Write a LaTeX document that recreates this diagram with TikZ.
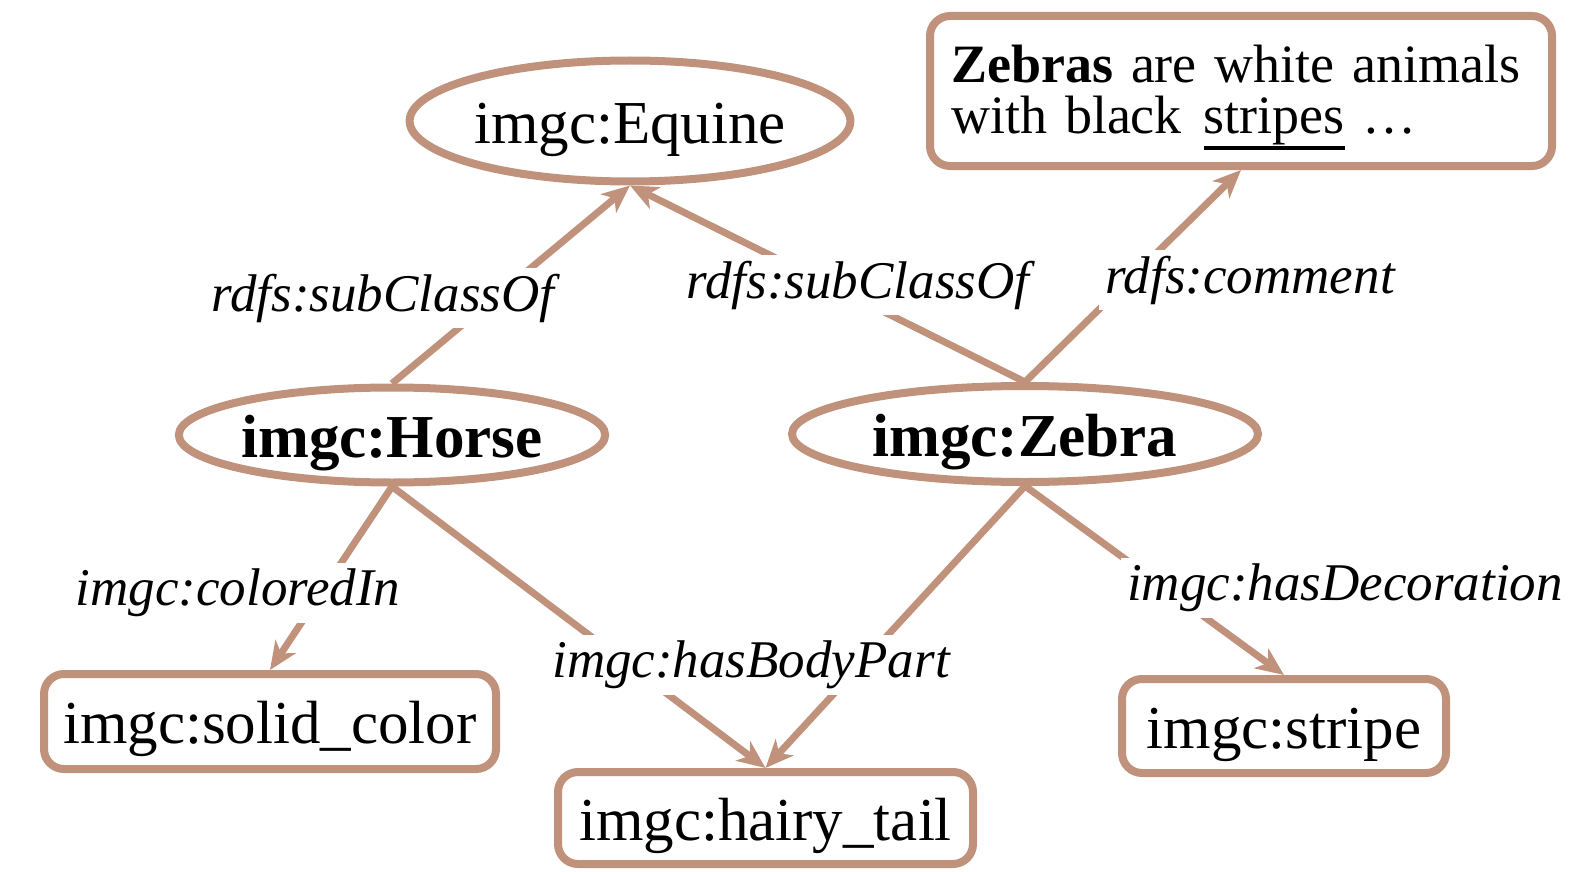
\documentclass[tikz,border=0pt]{standalone}
\usepackage{fontspec}
\setmainfont{Liberation Serif}
\usepackage{tikz}
\usetikzlibrary{arrows.meta,shapes.geometric}

\definecolor{owlbrown}{RGB}{192,146,124}
\newcommand{\thickul}[1]{\leavevmode\vtop{\hbox{#1}\kern0.3pt\hrule height 2pt}}

\begin{document}
\begin{tikzpicture}[x=0.5pt,y=-0.5pt]
	\tikzstyle{cls}=[ellipse,draw=owlbrown,line width=4pt,fill=white,inner sep=0pt,text height=24.5pt,text depth=2.5pt,font=\fontsize{30.5pt}{36pt}\selectfont]
	\tikzstyle{lit}=[rectangle,rounded corners=10pt,draw=owlbrown,line width=4pt,fill=white,inner sep=0pt,font=\fontsize{30.5pt}{36pt}\selectfont]
	\tikzstyle{val}=[lit,text height=24.5pt,text depth=2.5pt]
	\tikzstyle{prop}=[fill=white,inner sep=3pt,font=\fontsize{26.5pt}{30pt}\selectfont\itshape]
	\tikzstyle{rel}=[draw=owlbrown,line width=3.5pt,-{Stealth[length=14pt,width=12pt,inset=4pt]}]
	\useasboundingbox (0,0) rectangle (1573,872);
	% classes
	\node (equine) at (630,121) [cls,minimum width=218pt,minimum height=60.5pt] {imgc:Equine};
	\node (horse) at (392,435) [cls,minimum width=209.5pt,minimum height=47.5pt] {\textbf{imgc:Horse}};
	\node (zebra) at (1025,434) [cls,minimum width=233pt,minimum height=48pt] {\textbf{imgc:Zebra}};
	% values
	\node (comment) at (1241,91) [lit,minimum width=311pt,minimum height=75pt,
		font=\fontsize{27pt}{25.5pt}\selectfont,align=left,text width=290pt] {%
		\rule{0pt}{25pt}\textbf{Zebras} are white animals\\
		with black\hspace{0.4em}\thickul{stripes} \dots};
	\node (solid) at (270,721.5) [val,minimum width=226pt,minimum height=47.5pt] {imgc:solid\_color};
	\node (hairy) at (765.5,818) [val,minimum width=207.5pt,minimum height=46pt] {imgc:hairy\_tail};
	\node (stripe) at (1284,726) [val,minimum width=162pt,minimum height=47pt] {imgc:stripe};
	% properties
	\draw [rel] (horse.north) -- (equine.south);
	\draw [rel] (zebra.north) -- (equine.south);
	\draw [rel] (zebra.north) -- (comment.south);
	\draw [rel] (horse.south) -- (solid.north);
	\draw [rel] (horse.south) -- (hairy.north);
	\draw [rel] (zebra.south) -- (hairy.north);
	\draw [rel] (zebra.south) -- (stripe.north);
	\node (subhorse) at (383,298) [prop] {rdfs:subClassOf};
	\node (subzebra) at (858,285) [prop] {rdfs:subClassOf};
	\node (rdfscomment) at (1250,280) [prop] {rdfs:comment};
	\node (colored) at (238,593) [prop] {imgc:coloredIn};
	\node (bodypart) at (751,665) [prop] {imgc:hasBodyPart};
	\node (decoration) at (1345,588) [prop] {imgc:hasDecoration};
\end{tikzpicture}
\end{document}
